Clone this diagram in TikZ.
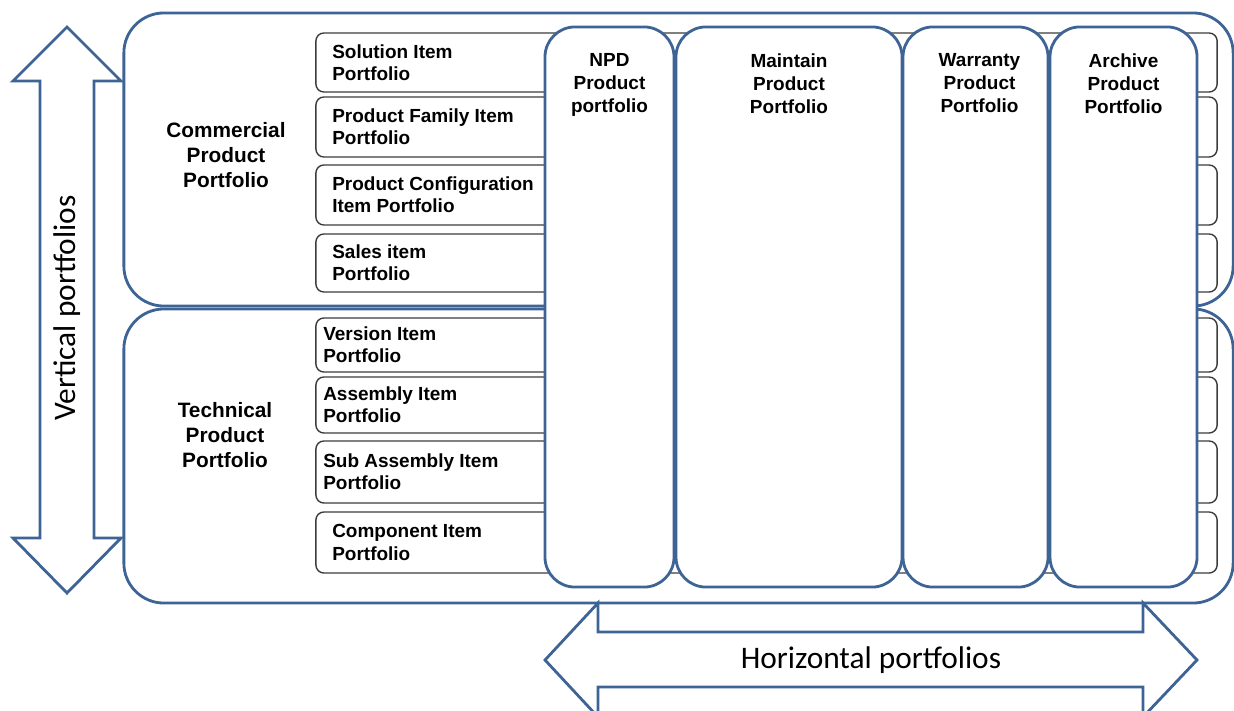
\documentclass[tikz,border=0pt]{standalone}
\usepackage{fontspec}
\setmainfont{Liberation Sans}
\newfontfamily\calibrifont{Carlito}
\usetikzlibrary{positioning}
\definecolor{frameblue}{RGB}{62,100,150}
\definecolor{rowgray}{RGB}{60,60,60}
\tikzstyle{group}=[rectangle, draw=frameblue, line width=2pt, fill=white, rounded corners=1cm, inner sep=0pt, minimum width=27.725cm]
\tikzstyle{rowbox}=[rectangle, draw=rowgray, line width=1pt, fill=white, rounded corners=0.2cm, inner sep=0pt, minimum width=22.525cm]
\tikzstyle{colbox}=[rectangle, draw=frameblue, line width=2pt, fill=white, rounded corners=0.75cm, inner sep=0pt, minimum height=14cm]
\tikzstyle{rowtxt}=[anchor=west, align=left, inner sep=0pt, font=\bfseries\fontsize{13.5}{15.8}\selectfont]
\tikzstyle{coltxt}=[align=center, inner sep=0pt, font=\bfseries\fontsize{13.5}{16.3}\selectfont]
\tikzstyle{grouptxt}=[align=center, inner sep=0pt, font=\bfseries\fontsize{14.8}{17.8}\selectfont]
\tikzstyle{bigarrow}=[draw=frameblue, line width=2pt, fill=white, line join=miter]
\tikzstyle{arrowtxt}=[inner sep=0pt, font=\calibrifont\fontsize{22.3}{26}\selectfont]
\newcommand{\rowbox}{\node[rowbox]}
\newcommand{\colbox}{\node[colbox]}

\begin{document}
\begin{tikzpicture}[x=0.025cm, y=-0.025cm]
	\useasboundingbox (0,0) rectangle (1234,710);
	\clip (0,0) rectangle (1234,710);
	% the two vertical groups
	\node[group] (comm) at (678.5,159.5) [minimum height=7.325cm]{};
	\node[group] (tech) at (678.5,456) [minimum height=7.35cm]{};
	\node[grouptxt] (commtxt) at (226,155) {Commercial\\Product\\Portfolio};
	\node[grouptxt] (techtxt) at (225,435) {Technical\\Product\\Portfolio};
	% item rows
	\rowbox (sol) at (766.5,62.5) [minimum height=1.475cm]{};
	\rowbox (fam) at (766.5,127) [minimum height=1.5cm]{};
	\rowbox (conf) at (766.5,195) [minimum height=1.5cm]{};
	\rowbox (sales) at (766.5,263) [minimum height=1.45cm]{};
	\rowbox (ver) at (766.5,345) [minimum height=1.35cm]{};
	\rowbox (asm) at (766.5,405) [minimum height=1.4cm]{};
	\rowbox (sub) at (766.5,472) [minimum height=1.55cm]{};
	\rowbox (comp) at (766.5,542.5) [minimum height=1.525cm]{};
	\node[rowtxt] (soltxt) at (332,62.5) {Solution Item\\Portfolio};
	\node[rowtxt] (famtxt) at (332,127) {Product Family Item\\Portfolio};
	\node[rowtxt] (conftxt) at (332,195) {Product Configuration\\Item Portfolio};
	\node[rowtxt] (salestxt) at (332,263) {Sales item\\Portfolio};
	\node[rowtxt] (vertxt) at (323,345) {Version Item\\Portfolio};
	\node[rowtxt] (asmtxt) at (323,405) {Assembly Item\\Portfolio};
	\node[rowtxt] (subtxt) at (323,472) {Sub Assembly Item\\Portfolio};
	\node[rowtxt] (comptxt) at (332,542.5) {Component Item\\Portfolio};
	% life cycle columns
	\colbox (npd) at (609.5,307) [minimum width=3.225cm]{};
	\colbox (maint) at (789,307) [minimum width=5.65cm]{};
	\colbox (warr) at (975.5,307) [minimum width=3.625cm]{};
	\colbox (arch) at (1123.5,307) [minimum width=3.675cm]{};
	\node[coltxt, below=0.7cm of npd.north] (npdtxt) {NPD\\Product\\portfolio};
	\node[coltxt, below=0.7cm of maint.north] (mainttxt) {Maintain\\Product\\Portfolio};
	\node[coltxt, below=0.7cm of warr.north, xshift=0.1cm] (warrtxt) {Warranty\\Product\\Portfolio};
	\node[coltxt, below=0.7cm of arch.north] (archtxt) {Archive\\Product\\Portfolio};
	% arrows
	\draw[bigarrow] (67,27) -- (121,81) -- (94,81) -- (94,538) -- (121,538) -- (67,593)
		-- (13,538) -- (40,538) -- (40,81) -- (13,81) -- cycle;
	\node[arrowtxt, rotate=90] (vert) at (67,308) {Vertical portfolios};
	\draw[bigarrow] (545,660) -- (598,603) -- (598,632) -- (1143,632) -- (1143,603) -- (1197,660)
		-- (1143,717) -- (1143,687) -- (598,687) -- (598,717) -- cycle;
	\node[arrowtxt] (horiz) at (871,660) {Horizontal portfolios};
\end{tikzpicture}
\end{document}
